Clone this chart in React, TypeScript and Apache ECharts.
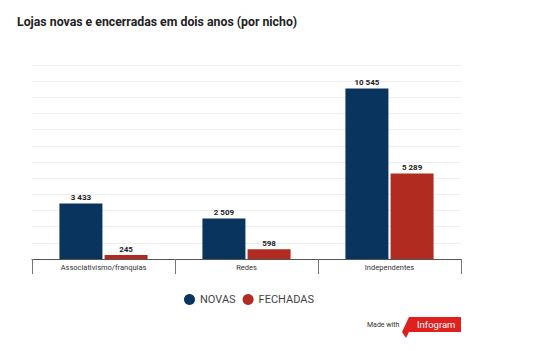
import React, { useEffect, useRef } from "react";
import * as echarts from "echarts";

const categories = ["Associativismo/franquias", "Redes", "Independentes"];
const novas = [3433, 2509, 10545];
const fechadas = [245, 598, 5289];
const seriesNames = ["NOVAS", "FECHADAS"];

const fmt = (v: number) => String(v).replace(/\B(?=(\d{3})+(?!\d))/g, " ");

export default function App() {
  const ref = useRef<HTMLDivElement>(null);
  useEffect(() => {
    document.body.style.margin = "0";
    const chart = echarts.init(ref.current!, null, { renderer: "svg" });
    const label = {
      show: true,
      position: "top" as const,
      fontFamily: "Roboto",
      fontSize: 8,
      fontWeight: "bold" as const,
      color: "#222",
      distance: 2,
      formatter: (p: any) => fmt(p.value),
    };
    chart.setOption({
      animation: false,
      textStyle: { fontFamily: "Roboto" },
      title: {
        text: "Lojas novas e encerradas em dois anos (por nicho)",
        left: 12,
        top: 11,
        textStyle: { fontFamily: "Roboto", fontSize: 12.3, fontWeight: "bold", color: "#222" },
      },
      legend: {
        data: seriesNames,
        top: 289,
        left: 179,
        icon: "circle",
        itemWidth: 11,
        itemHeight: 11,
        itemGap: 7,
        textStyle: { fontFamily: "Roboto", fontSize: 11, color: "#444" },
      },
      grid: { left: 32, right: 84, top: 65, bottom: 92 },
      xAxis: {
        type: "category",
        data: categories,
        axisLine: { lineStyle: { color: "#555", width: 1 } },
        axisTick: { show: true, length: 15, lineStyle: { color: "#777" } },
        axisLabel: { fontFamily: "Roboto", fontSize: 7.5, color: "#333", margin: 4 },
      },
      yAxis: {
        type: "value",
        min: 0,
        max: 12000,
        interval: 1000,
        axisLabel: { show: false },
        axisLine: { show: false },
        axisTick: { show: false },
        splitLine: { lineStyle: { color: "#eeeeee", width: 1 } },
      },
      series: [
        {
          name: seriesNames[0],
          type: "bar",
          data: novas,
          barWidth: 43,
          barGap: "5%",
          itemStyle: { color: "#08345e" },
          label,
        },
        {
          name: seriesNames[1],
          type: "bar",
          data: fechadas,
          barWidth: 43,
          barGap: "5%",
          itemStyle: { color: "#b22b21" },
          label,
        },
      ],
      graphic: [
        {
          type: "text",
          left: 367,
          top: 321,
          style: { text: "Made with", fontFamily: "Roboto", fontSize: 7, fill: "#333" },
        },
        {
          type: "polygon",
          shape: {
            points: [
              [409, 317],
              [461, 317],
              [461, 332],
              [409, 332],
              [406, 338],
              [402, 332],
            ],
          },
          style: { fill: "#e0201f" },
        },
        {
          type: "text",
          left: 417,
          top: 319,
          style: { text: "Infogram", fontFamily: "Roboto", fontSize: 9.5, fill: "#fff" },
        },
      ],
    });
    return () => chart.dispose();
  }, []);
  return <div ref={ref} style={{ width: 545, height: 351 }} />;
}
